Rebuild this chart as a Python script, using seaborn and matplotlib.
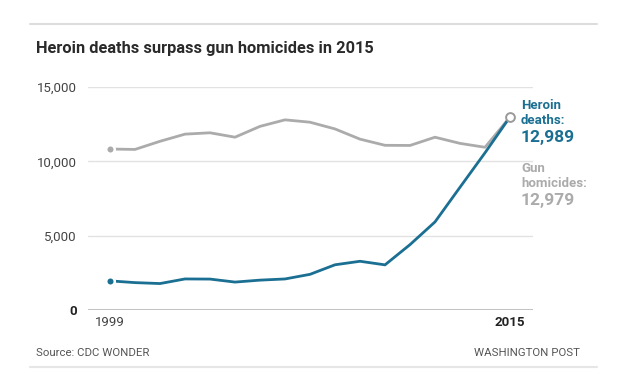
import matplotlib
matplotlib.use("Agg")
import pandas as pd
import matplotlib.pyplot as plt
import seaborn as sns
from matplotlib.lines import Line2D

years = list(range(1999, 2016))
heroin_deaths = [1960, 1842, 1779, 2089, 2080, 1878, 2009, 2088, 2399, 3041,
                 3278, 3036, 4397, 5925, 8257, 10574, 12989]
gun_homicides = [10828, 10801, 11348, 11829, 11920, 11624, 12352, 12791, 12632,
                 12179, 11493, 11078, 11068, 11622, 11208, 10945, 12979]
y_ticks = [0, 5000, 10000, 15000]

TEAL = "#1a6f92"
GREY = "#ababab"
FONT = ["Roboto", "DejaVu Sans"]

sns.set_style("white")
plt.rcParams["font.family"] = FONT

df = pd.DataFrame({"year": years, "Heroin": heroin_deaths, "Gun": gun_homicides})
long = df.melt(id_vars="year", var_name="series", value_name="deaths")

fig = plt.figure(figsize=(6.2, 3.89), dpi=100)
fig.patch.set_facecolor("white")
ax = fig.add_axes([88 / 620, 79 / 389, 445 / 620, 223 / 389])
ax.set_facecolor("white")

sns.lineplot(data=long, x="year", y="deaths", hue="series",
             palette={"Heroin": TEAL, "Gun": GREY}, hue_order=["Gun", "Heroin"],
             linewidth=2, legend=False, ax=ax, zorder=3)

# start dots
ax.scatter([years[0]], [gun_homicides[0]], s=38, color=GREY,
           edgecolor="white", linewidth=1.8, zorder=5, clip_on=False)
ax.scatter([years[0]], [heroin_deaths[0]], s=38, color=TEAL,
           edgecolor="white", linewidth=1.8, zorder=5, clip_on=False)
# end marker
ax.scatter([years[-1]], [heroin_deaths[-1]], s=40, color="white",
           edgecolor="#999999", linewidth=1.4, zorder=6, clip_on=False)

ax.set_xlim(1998.12, 2015.92)
ax.set_ylim(0, 15000)
ax.set_yticks(y_ticks)
ax.set_yticklabels(["0", "5,000", "10,000", "15,000"])
ax.set_xticks([1999, 2015])
ax.set_xticklabels(["1999", "2015"])
ax.grid(axis="y", color="#e2e2e2", linewidth=1)
ax.grid(axis="x", visible=False)
for s in ax.spines.values():
    s.set_visible(False)
ax.axhline(0, color="#b8b8b8", linewidth=1.2, zorder=2)
ax.tick_params(axis="both", length=0, labelsize=9.5, labelcolor="#444444")
ax.tick_params(axis="y", pad=8)
ax.tick_params(axis="x", pad=4)
ax.get_yticklabels()[0].set_fontweight("bold")
ax.get_yticklabels()[0].set_color("#222222")
ax.get_xticklabels()[1].set_fontweight("bold")
ax.get_xticklabels()[1].set_color("#222222")
ax.set_xlabel("")
ax.set_ylabel("")

# end labels
fig.text(521 / 620, 1 - 113 / 389, "Heroin\ndeaths:", color=TEAL, fontsize=9.5,
         fontweight="bold", va="center", linespacing=1.2)
fig.text(521 / 620, 1 - 137 / 389, f"{heroin_deaths[-1]:,}", color=TEAL,
         fontsize=12.5, fontweight="bold", va="center")
fig.text(521 / 620, 1 - 176 / 389, "Gun\nhomicides:", color=GREY, fontsize=9.5,
         fontweight="bold", va="center", linespacing=1.2)
fig.text(521 / 620, 1 - 200 / 389, f"{gun_homicides[-1]:,}", color=GREY,
         fontsize=12.5, fontweight="bold", va="center")

fig.text(36 / 620, 1 - 48 / 389, "Heroin deaths surpass gun homicides in 2015",
         fontsize=11.8, fontweight="bold", color="#2a2a2a", va="center")
fig.text(36 / 620, 1 - 353 / 389, "Source: CDC WONDER", fontsize=8.2,
         color="#555555", va="center")
fig.text(580 / 620, 1 - 353 / 389, "WASHINGTON POST", fontsize=8.2,
         color="#555555", va="center", ha="right")

fig.add_artist(Line2D([30 / 620, 597 / 620], [1 - 24 / 389, 1 - 24 / 389],
                      color="#dddddd", linewidth=1.5))
fig.add_artist(Line2D([30 / 620, 597 / 620], [1 - 367 / 389, 1 - 367 / 389],
                      color="#e6e6e6", linewidth=1.5))

fig.savefig("out.png", dpi=100)
